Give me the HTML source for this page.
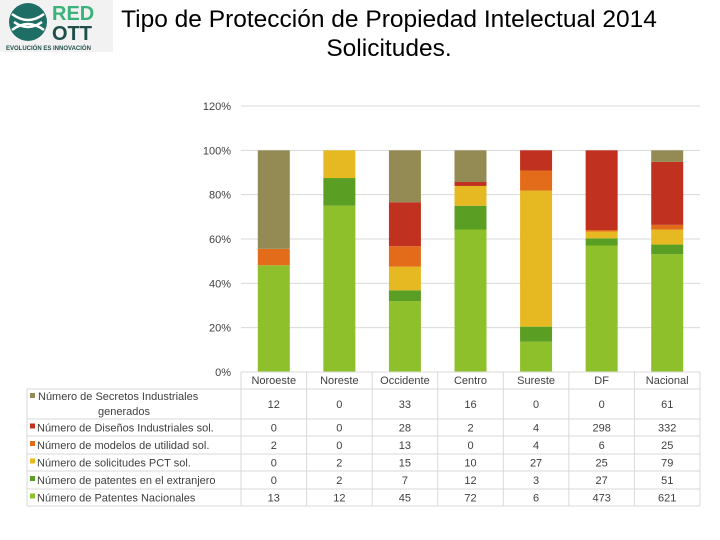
<!DOCTYPE html>
<html><head><meta charset="utf-8"><style>
body{margin:0;background:#fff;font-family:"Liberation Sans",sans-serif}
#wrap{position:relative;width:720px;height:540px;overflow:hidden}
</style></head><body><div id="wrap">
<svg id="svg" width="720" height="540" xmlns="http://www.w3.org/2000/svg">
<g>
<rect x="0" y="0" width="113" height="52" fill="#f2f2f2"/>
<circle cx="28" cy="22" r="19" fill="#1e6e66"/>
<path d="M12 14 Q28 26 44 14 M12 30 Q28 18 44 30 M14 22 Q28 32 42 22" stroke="#fff" stroke-width="2.5" fill="none"/>
<text x="52" y="20" font-size="20" font-weight="bold" fill="#3ab27a">RED</text>
<text x="52" y="40" font-size="20" font-weight="bold" fill="#1e4f4a">OTT</text>
<text x="6" y="50" font-size="6" font-weight="bold" fill="#1e4f4a">EVOLUCIÓN ES INNOVACIÓN</text>
</g>
<text x="389" y="27" text-anchor="middle" font-size="24.5" fill="#000">Tipo de Protección de Propiedad Intelectual  2014</text>
<text x="389" y="56" text-anchor="middle" font-size="24.5" fill="#000">Solicitudes.</text>
<g id="grid"></g><g id="bars"></g><g id="table"></g>
</svg></div>
<script>
const categories=["Noroeste","Noreste","Occidente","Centro","Sureste","DF","Nacional"];
const seriesNames=["Número de Patentes Nacionales","Número de patentes en el extranjero","Número de solicitudes PCT sol.","Número de modelos de utilidad sol.","Número de Diseños Industriales sol.","Número de Secretos Industriales generados"];
const nacionales=[13,12,45,72,6,473,621];
const extranjero=[0,2,7,12,3,27,51];
const pct=[0,2,15,10,27,25,79];
const modelos=[2,0,13,0,4,6,25];
const disenos=[0,0,28,2,4,298,332];
const secretos=[12,0,33,16,0,0,61];
const yTicks=[0,20,40,60,80,100,120];
const series=[nacionales,extranjero,pct,modelos,disenos,secretos];
const colors=["#8dc02a","#5a9e23","#e6b922","#e36c1a","#c0311f","#948a54"];
const NS="http://www.w3.org/2000/svg";
const x0=241,x1=700,y0=372,yTop=106;
const colW=(x1-x0)/categories.length,barW=32;
const y=p=>y0-(p/120)*(y0-yTop);
const xc=i=>x0+colW*(i+0.5);
function mk(t,a,p){const e=document.createElementNS(NS,t);for(const k in a)e.setAttribute(k,a[k]);p.appendChild(e);return e;}
const grid=document.getElementById('grid');
yTicks.forEach(t=>{
 const l=mk('line',{x1:x0,x2:x1,y1:y(t),y2:y(t),stroke:'#d9d9d9','stroke-width':1},grid);
 
 
 const tx=mk('text',{x:231,y:y(t)+4,'text-anchor':'end','font-size':11,fill:'#404040'},grid);
 tx.textContent=t+'%';
 
 
});
const bars=document.getElementById('bars');
categories.forEach((c,i)=>{
 const tot=series.reduce((s,a)=>s+a[i],0);let acc=0;
 series.forEach((a,k)=>{
  const v=a[i]/tot*100;if(v<=0)return;
  const r=mk('rect',{x:xc(i)-barW/2,y:y(acc+v),width:barW,height:y(acc)-y(acc+v),fill:colors[k]},bars);
  
  
  acc+=v;
 });
});
const tb=document.getElementById('table');
const rows=[389,419,436,454,471,489,506];
const ln=(a,b,c,d)=>{const l=mk('line',{x1:a,y1:b,x2:c,y2:d,stroke:'#d9d9d9','stroke-width':1},tb);};
ln(x0,372,x1,372);
rows.forEach(r=>ln(27,r,x1,r));
ln(27,389,27,506);
for(let i=0;i<=categories.length;i++)ln(x0+colW*i,372,x0+colW*i,506);
categories.forEach((c,i)=>{
 const t=mk('text',{x:xc(i),y:384,'text-anchor':'middle','font-size':11,fill:'#404040'},tb);
 t.textContent=c;
 
 
});
const order=[5,4,3,2,1,0];
order.forEach((k,r)=>{
 const top=rows[r],bot=rows[r+1],mid=(top+bot)/2+4;
 const sw=mk('rect',{x:30,y:(r==0?top+4:mid-8),width:5,height:5,fill:colors[k]},tb);
 
 
 if(r==0){
  const a=mk('text',{x:38,y:top+11,'font-size':11,fill:'#404040'},tb);a.textContent="Número de Secretos Industriales";
  
  const b=mk('text',{x:124,y:top+26,'text-anchor':'middle','font-size':11,fill:'#404040'},tb);b.textContent="generados";
  
 }else{
  const a=mk('text',{x:37,y:mid,'font-size':11,fill:'#404040'},tb);a.textContent=seriesNames[k];
  
 }
 categories.forEach((c,i)=>{
  const t=mk('text',{x:xc(i),y:mid,'text-anchor':'middle','font-size':11,fill:'#404040'},tb);
  t.textContent=series[k][i];
  
  
 });
});
</script></body></html>
